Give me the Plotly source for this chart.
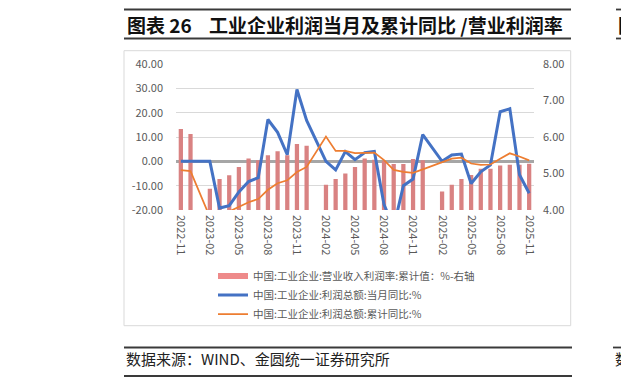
import plotly.graph_objects as go

W, H = 621, 377
ML, MR, MT, MB = 176, 87, 64, 167
PW = W - ML - MR
PH = H - MT - MB

def px(x):
    return (x - ML) / PW

def py(y):
    return (H - MB - y) / PH

months = [
    "2022-11", "2022-12",
    "2023-01", "2023-02", "2023-03", "2023-04", "2023-05", "2023-06",
    "2023-07", "2023-08", "2023-09", "2023-10", "2023-11", "2023-12",
    "2024-01", "2024-02", "2024-03", "2024-04", "2024-05", "2024-06",
    "2024-07", "2024-08", "2024-09", "2024-10", "2024-11", "2024-12",
    "2025-01", "2025-02", "2025-03", "2025-04", "2025-05", "2025-06",
    "2025-07", "2025-08", "2025-09", "2025-10", "2025-11",
]

margin_cum = [
    6.22, 6.08,
    None, 4.58, 4.85, 4.95, 5.18, 5.41,
    5.36, 5.50, 5.61, 5.50, 5.81, 5.76,
    None, 4.69, 4.85, 5.00, 5.18, 5.41,
    5.38, 5.35, 5.26, 5.26, 5.40, 5.36,
    None, 4.51, 4.69, 4.85, 4.96, 5.13,
    5.13, 5.22, 5.24, 5.24, 5.27,
]

profit_month_yoy = [
    0, 0,
    None, 0, -19.2, -18.2, -12.6, -8.3,
    -6.7, 17.2, 11.9, 2.7, 29.5, 16.8,
    None, 0, -3.5, 4.0, 0.7, 3.6,
    4.1, -17.8, -27.1, -10.0, -7.3, 11.0,
    None, 0, 2.6, 3.0, -9.1, -4.3,
    -1.5, 20.4, 21.6, -5.5, -13.1,
]

profit_cum_yoy = [
    -3.6, -4.0,
    None, -22.9, -21.4, -20.6, -18.8, -16.8,
    -15.5, -11.7, -9.0, -7.8, -4.4, -2.3,
    None, 10.2, 4.3, 4.3, 3.4, 3.5,
    3.6, 0.5, -3.5, -4.3, -4.7, -3.3,
    None, -0.5, 1.1, 1.5, -0.9, -1.5,
    -1.3, 1.1, 3.3, 2.0, 0.4,
]

left_ticks = [-20, -10, 0, 10, 20, 30, 40]
right_ticks = [4, 5, 6, 7, 8]
x_ticks = months[::3]

name_bar = "中国:工业企业:营业收入利润率:累计值：%-右轴"
name_blue = "中国:工业企业:利润总额:当月同比:%"
name_orange = "中国:工业企业:利润总额:累计同比:%"

BAR_COLOR = "#d98282"
BLUE = "#4472c4"
ORANGE = "#ed7d31"
TICK_FONT = dict(family="Noto Sans CJK SC", size=11, color="#595959")

fig = go.Figure()
fig.add_trace(go.Bar(
    x=months, y=margin_cum, yaxis="y", marker=dict(color=BAR_COLOR, line=dict(width=0)),
    showlegend=False, name=name_bar,
))
fig.add_trace(go.Scatter(
    x=[None], y=[None], mode="lines", yaxis="y2",
    line=dict(color="#ee8a8a", width=6), name=name_bar,
))
fig.add_trace(go.Scatter(
    x=months, y=profit_month_yoy, yaxis="y2", mode="lines", connectgaps=True,
    line=dict(color=BLUE, width=3), name=name_blue,
))
fig.add_trace(go.Scatter(
    x=months, y=profit_cum_yoy, yaxis="y2", mode="lines", connectgaps=True,
    line=dict(color=ORANGE, width=1.75), name=name_orange,
))

shapes = []
def hline(x0, x1, y, color="#3a3a3a", width=1.8):
    shapes.append(dict(type="line", xref="paper", yref="paper",
                       x0=px(x0), x1=px(x1), y0=py(y), y1=py(y),
                       line=dict(color=color, width=width)))

# title rules
hline(124, 571, 9.5)
hline(124, 571, 38.5)
hline(616, 625, 9.5)
hline(616, 625, 38.5)
# source rules
hline(124, 572, 347.5)
hline(124, 572, 376)
hline(613, 625, 347.5)
# chart frame
shapes.append(dict(type="rect", xref="paper", yref="paper",
                   x0=px(124), x1=px(570.7), y0=py(50.7), y1=py(325.7),
                   line=dict(color="#d9d9d9", width=1), fillcolor="rgba(0,0,0,0)",
                   layer="below"))

annotations = [
    dict(text="<b>图表 26\u00a0\u00a0\u00a0 工业企业利润当月及累计同比 /营业利润率</b>",
         xref="paper", yref="paper", x=px(125), y=py(24), xanchor="left", yanchor="middle",
         showarrow=False, font=dict(family="Noto Sans CJK SC", size=19, color="#111111")),
    dict(text="<b>图</b>", xref="paper", yref="paper", x=px(616), y=py(24),
         xanchor="left", yanchor="middle", showarrow=False,
         font=dict(family="Noto Sans CJK SC", size=19, color="#111111")),
    dict(text="数据来源：WIND、金圆统一证券研究所", xref="paper", yref="paper",
         x=px(124), y=py(358), xanchor="left", yanchor="middle", showarrow=False,
         font=dict(family="Noto Sans CJK SC", size=15, color="#222222")),
    dict(text="数", xref="paper", yref="paper", x=px(613), y=py(358),
         xanchor="left", yanchor="middle", showarrow=False,
         font=dict(family="Noto Sans CJK SC", size=15, color="#222222")),
]

fig.update_layout(
    width=W, height=H,
    margin=dict(l=ML, r=MR, t=MT, b=MB, pad=0),
    paper_bgcolor="white", plot_bgcolor="rgba(0,0,0,0)",
    barmode="overlay", bargap=0.56,
    showlegend=True,
    legend=dict(x=px(213), y=py(261.5), xanchor="left", yanchor="top",
                orientation="v", traceorder="normal",
                font=dict(family="Noto Sans CJK SC", size=10.5, color="#595959"),
                bgcolor="rgba(0,0,0,0)", itemwidth=30, tracegroupgap=0),
    xaxis=dict(type="category", categoryorder="array", categoryarray=months,
               range=[-0.5, len(months) - 0.5],
               tickmode="array", tickvals=x_ticks, ticktext=x_ticks, tickangle=90,
               showgrid=False, showline=False, zeroline=False, ticks="",
               tickfont=TICK_FONT, ticklabelstandoff=4),
    yaxis=dict(side="right", range=[4, 8], tickmode="array", tickvals=right_ticks,
               ticktext=[f"{v:.2f}" for v in right_ticks],
               showgrid=False, zeroline=False, showline=False, ticks="",
               tickfont=TICK_FONT, ticklabelstandoff=8),
    yaxis2=dict(side="left", overlaying="y", range=[-20, 40], tickmode="array",
                tickvals=left_ticks, ticktext=[f"{v:.2f}" for v in left_ticks],
                showgrid=True, gridcolor="#d9d9d9", gridwidth=1,
                zeroline=True, zerolinecolor="#a6a6a6", zerolinewidth=2.5,
                showline=False, ticks="", tickfont=TICK_FONT, ticklabelstandoff=12),
    shapes=shapes,
    annotations=annotations,
)

fig.write_html("out.html")
